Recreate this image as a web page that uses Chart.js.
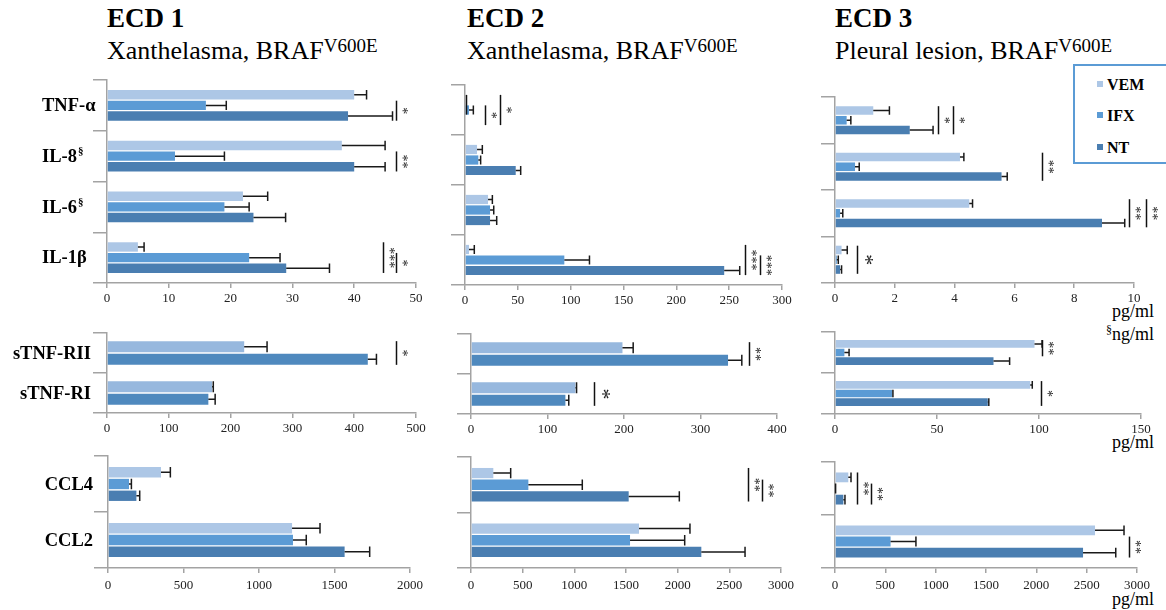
<!DOCTYPE html>
<html>
<head>
<meta charset="utf-8">
<script src="https://cdn.jsdelivr.net/npm/chart.js@4.4.1/dist/chart.umd.min.js"></script>
<style>
  body { margin: 0; background: #fff; width: 1166px; height: 610px; position: relative; overflow: hidden;
         font-family: 'Liberation Serif', 'Times New Roman', serif; color: #000; }
  canvas { position: absolute; }
  .ecd { position: absolute; top: 5px; font-weight: bold; font-size: 27px; line-height: 27px; }
  .sub { position: absolute; top: 38px; font-size: 26px; line-height: 26px; white-space: nowrap; }
  .sub sup { font-size: 19px; vertical-align: baseline; position: relative; top: -7px; }
  .unit { position: absolute; right: 12px; font-size: 18px; line-height: 18px; }
  .unit sup { font-size: 12px; vertical-align: baseline; position: relative; top: -6px; }
  #legend { position: absolute; left: 1073px; top: 64px; width: 100px; height: 96px;
            border: 2px solid #5b9bd5; background: #fff; z-index: 2; }
  #legend div { position: absolute; left: 22px; font-weight: bold; font-size: 16px; line-height: 16px; }
  #legend span { display: inline-block; width: 6px; height: 6px; margin-right: 4px; vertical-align: 3px; }
</style>
</head>
<body>
<div class="ecd" style="left:107px">ECD 1</div>
<div class="sub" style="left:107px">Xanthelasma, BRAF<sup>V600E</sup></div>
<div class="ecd" style="left:467px">ECD 2</div>
<div class="sub" style="left:467px">Xanthelasma, BRAF<sup>V600E</sup></div>
<div class="ecd" style="left:835px">ECD 3</div>
<div class="sub" style="left:835px">Pleural lesion, BRAF<sup>V600E</sup></div>

<div id="legend">
  <div style="top:11px"><span style="background:#adc7e6"></span>VEM</div>
  <div style="top:42px"><span style="background:#5b9bd5"></span>IFX</div>
  <div style="top:74px"><span style="background:#4a7eb1"></span>NT</div>
</div>

<div class="unit" style="top:302px">pg/ml</div>
<div class="unit" style="top:325px"><sup>§</sup>ng/ml</div>
<div class="unit" style="top:433px">pg/ml</div>
<div class="unit" style="top:590px">pg/ml</div>

<script>
// categories
const topLabels = ['TNF-α', 'IL-8§', 'IL-6§', 'IL-1β'];
const midLabels = ['sTNF-RII', 'sTNF-RI'];
const lowLabels = ['CCL4', 'CCL2'];

// ECD 1 - cytokines
const e1TopVEM = [40, 38, 22, 5];
const e1TopVEMErr = [2, 7, 4, 1];
const e1TopIFX = [16, 11, 19, 23];
const e1TopIFXErr = [3.3, 8, 4, 5];
const e1TopNT = [39, 40, 23.7, 29];
const e1TopNTErr = [7.2, 5, 5.2, 7];
// ECD 1 - soluble receptors (no IFX)
const e1MidVEM = [222, 170];
const e1MidVEMErr = [37, 2];
const e1MidNT = [422, 164];
const e1MidNTErr = [14, 11];
// ECD 1 - chemokines
const e1LowVEM = [351, 1219];
const e1LowVEMErr = [62, 185];
const e1LowIFX = [139, 1225];
const e1LowIFXErr = [16, 88];
const e1LowNT = [188, 1567];
const e1LowNTErr = [22, 166];

// ECD 2
const e2TopVEM = [0, 11.4, 21.8, 3.8];
const e2TopVEMErr = [0, 5, 4.1, 5];
const e2TopIFX = [3.8, 12.6, 23.7, 94];
const e2TopIFXErr = [4.1, 2.2, 3.5, 23.8];
const e2TopNT = [0, 48, 23.7, 245.3];
const e2TopNTErr = [0, 4.7, 6.3, 14.7];
const e2MidVEM = [198, 136.5];
const e2MidVEMErr = [14, 1.5];
const e2MidNT = [336, 123.4];
const e2MidNTErr = [18, 4.4];
const e2LowVEM = [216, 1626];
const e2LowVEMErr = [168, 493];
const e2LowIFX = [555, 1539];
const e2LowIFXErr = [522, 529];
const e2LowNT = [1526, 2229];
const e2LowNTErr = [490, 423];

// ECD 3
const e3TopVEM = [1.28, 4.18, 4.49, 0.22];
const e3TopVEMErr = [0.54, 0.13, 0.11, 0.19];
const e3TopIFX = [0.39, 0.67, 0.17, 0.06];
const e3TopIFXErr = [0.14, 0.14, 0.09, 0.05];
const e3TopNT = [2.5, 5.57, 8.93, 0.17];
const e3TopNTErr = [0.78, 0.19, 0.76, 0.05];
const e3MidVEM = [97.8, 95.7];
const e3MidVEMErr = [3.7, 1];
const e3MidIFX = [4.6, 28.1];
const e3MidIFXErr = [2.3, 0.3];
const e3MidNT = [77.7, 74.9];
const e3MidNTErr = [7.9, 0.5];
const e3LowVEM = [132, 2583];
const e3LowVEMErr = [27, 288];
const e3LowIFX = [0, 552];
const e3LowIFXErr = [6, 252];
const e3LowNT = [83, 2464];
const e3LowNTErr = [16, 325];

// significance bars: [category, first series, last series, x value, stars, large]
const e1TopSig = [[0, 1, 2, 46.8, '*'], [1, 1, 2, 46.8, '**'], [3, 0, 2, 44.6, '***'], [3, 1, 2, 46.8, '*']];
const e1MidSig = [[0, 0, 1, 468, '*']];
const e2TopSig = [[0, 0, 1, 0.6, ''], [0, 1, 2, 19, '*'], [0, 0, 2, 32.8, '*'], [3, 0, 2, 264.6, '***'], [3, 1, 2, 278.8, '***']];
const e2MidSig = [[0, 0, 1, 363, '**'], [1, 0, 1, 161, '*', true]];
const e2LowSig = [[0, 0, 2, 2677, '**'], [0, 1, 2, 2813, '**']];
const e3TopSig = [[0, 0, 2, 3.46, '*'], [0, 0, 2, 3.95, '*'], [1, 0, 2, 6.93, '**'], [2, 0, 2, 9.83, '**'], [2, 0, 2, 10.41, '**'], [3, 0, 2, 0.72, '*', true]];
const e3MidSig = [[0, 0, 1, 101.6, '**'], [1, 0, 2, 101, '*']];
const e3LowSig = [[0, 0, 2, 215, '**'], [0, 1, 2, 357, '**'], [1, 1, 2, 2921, '**']];

const C = { vem: '#adc7e6', ifx: '#5b9bd5', nt: '#4a7eb1', vem2: '#97b8de', nt2: '#4f89be' };
const axisColor = '#a3a3a3';
const serif = "'Liberation Serif', 'Times New Roman', serif";
Chart.defaults.font.family = serif;

function panel(box, area, labels, sets, max, step, sig, names, tickPad) {
  const cv = document.createElement('canvas');
  cv.width = box.w; cv.height = box.h;
  cv.style.left = box.x + 'px'; cv.style.top = box.y + 'px';
  document.body.appendChild(cv);

  const errorBars = {
    id: 'errorBars',
    afterDatasetsDraw(chart) {
      const ctx = chart.ctx, xs = chart.scales.x;
      ctx.save();
      ctx.strokeStyle = '#1a1a1a'; ctx.lineWidth = 1.5;
      chart.data.datasets.forEach((ds, i) => {
        chart.getDatasetMeta(i).data.forEach((bar, j) => {
          const v = ds.data[j], e = ds.errors[j];
          if (v == null || !e) return;
          const x0 = xs.getPixelForValue(v), x1 = xs.getPixelForValue(v + e);
          const h = bar.height;
          ctx.beginPath();
          ctx.moveTo(x0, bar.y); ctx.lineTo(x1, bar.y);
          ctx.moveTo(x1, bar.y - h / 2); ctx.lineTo(x1, bar.y + h / 2);
          ctx.stroke();
        });
      });
      ctx.restore();
    }
  };

  const sigBars = {
    id: 'sigBars',
    afterDatasetsDraw(chart) {
      const ctx = chart.ctx, xs = chart.scales.x;
      ctx.save();
      sig.forEach(([cat, a, b, xv, txt, big]) => {
        const m0 = chart.getDatasetMeta(a).data[cat], m1 = chart.getDatasetMeta(b).data[cat];
        const y0 = m0.y - m0.height / 2, y1 = m1.y + m1.height / 2;
        const x = Math.round(xs.getPixelForValue(xv)) + 0.5;
        ctx.strokeStyle = '#111'; ctx.lineWidth = 1.5;
        ctx.beginPath(); ctx.moveTo(x, y0); ctx.lineTo(x, y1); ctx.stroke();
        if (!txt) return;
        ctx.save();
        ctx.translate(x + (big ? 7 : 5), (y0 + y1) / 2);
        ctx.rotate(Math.PI / 2);
        ctx.font = (big ? '22px ' : '14px ') + serif;
        ctx.fillStyle = '#222';
        ctx.textAlign = 'center'; ctx.textBaseline = 'middle';
        ctx.fillText(txt, 0, 0);
        ctx.restore();
      });
      ctx.restore();
    }
  };

  const catNames = {
    id: 'catNames',
    afterDraw(chart) {
      if (!names) return;
      const ctx = chart.ctx, ys = chart.scales.y;
      ctx.save();
      ctx.fillStyle = '#000'; ctx.textBaseline = 'middle';
      chart.data.labels.forEach((lab, j) => {
        const y = ys.getPixelForValue(j);
        let main = lab, sup = '';
        if (lab.endsWith('§')) { main = lab.slice(0, -1); sup = '§'; }
        ctx.font = 'bold 18.5px ' + serif;
        const w = ctx.measureText(main).width;
        const x = names.align === 'left' ? names.x - box.x : names.x - box.x - w;
        ctx.fillText(main, x, y + 1);
        if (sup) {
          ctx.font = 'bold 11px ' + serif;
          ctx.fillText(sup, x + w + 1, y - 5);
        }
      });
      ctx.restore();
    }
  };

  return new Chart(cv, {
    type: 'bar',
    data: {
      labels: labels,
      datasets: sets.map(s => ({
        label: s[0], data: s[1], errors: s[2], backgroundColor: s[3],
        borderWidth: 0, categoryPercentage: 0.63, barPercentage: 0.88
      }))
    },
    options: {
      indexAxis: 'y',
      responsive: false,
      animation: false,
      devicePixelRatio: 1,
      layout: { padding: { left: 0, top: area.t - box.y, right: box.x + box.w - area.r, bottom: 0 } },
      plugins: { legend: { display: false }, tooltip: { enabled: false } },
      scales: {
        x: {
          min: 0, max: max,
          ticks: {
            stepSize: step, color: '#222', font: { family: serif, size: 13 }, padding: tickPad,
            maxRotation: 0, autoSkip: false, callback: v => String(v)
          },
          grid: { drawOnChartArea: false, tickLength: 5, color: axisColor, lineWidth: 1.5 },
          border: { color: axisColor, width: 1.5 },
          afterFit: s => { s.height = box.y + box.h - area.b; }
        },
        y: {
          ticks: { display: false },
          grid: { drawOnChartArea: false, tickLength: 14, color: axisColor, lineWidth: 1.5, offset: true },
          border: { color: axisColor, width: 1.5 },
          afterFit: s => { s.width = area.l - box.x; }
        }
      }
    },
    plugins: [errorBars, sigBars, catNames]
  });
}

// ECD 1 column
panel({ x: 0, y: 70, w: 430, h: 236 }, { l: 107, r: 416, t: 80, b: 283 }, topLabels,
  [['VEM', e1TopVEM, e1TopVEMErr, C.vem], ['IFX', e1TopIFX, e1TopIFXErr, C.ifx], ['NT', e1TopNT, e1TopNTErr, C.nt]],
  50, 10, e1TopSig, { x: 42, align: 'left' }, 3);
panel({ x: 0, y: 320, w: 430, h: 120 }, { l: 107, r: 416, t: 333, b: 413 }, midLabels,
  [['VEM', e1MidVEM, e1MidVEMErr, C.vem2], ['NT', e1MidNT, e1MidNTErr, C.nt2]],
  500, 100, e1MidSig, { x: 91, align: 'right' }, 3);
panel({ x: 0, y: 445, w: 430, h: 160 }, { l: 108, r: 410, t: 456, b: 568 }, lowLabels,
  [['VEM', e1LowVEM, e1LowVEMErr, C.vem], ['IFX', e1LowIFX, e1LowIFXErr, C.ifx], ['NT', e1LowNT, e1LowNTErr, C.nt]],
  2000, 500, [], { x: 93, align: 'right' }, 5);

// ECD 2 column
panel({ x: 440, y: 70, w: 360, h: 236 }, { l: 465, r: 782, t: 85, b: 285 }, topLabels,
  [['VEM', e2TopVEM, e2TopVEMErr, C.vem], ['IFX', e2TopIFX, e2TopIFXErr, C.ifx], ['NT', e2TopNT, e2TopNTErr, C.nt]],
  300, 50, e2TopSig, null, 3);
panel({ x: 440, y: 320, w: 360, h: 120 }, { l: 471, r: 777, t: 334, b: 414 }, midLabels,
  [['VEM', e2MidVEM, e2MidVEMErr, C.vem2], ['NT', e2MidNT, e2MidNTErr, C.nt2]],
  400, 100, e2MidSig, null, 3);
panel({ x: 440, y: 445, w: 360, h: 160 }, { l: 471, r: 781, t: 457, b: 568 }, lowLabels,
  [['VEM', e2LowVEM, e2LowVEMErr, C.vem], ['IFX', e2LowIFX, e2LowIFXErr, C.ifx], ['NT', e2LowNT, e2LowNTErr, C.nt]],
  3000, 500, e2LowSig, null, 5);

// ECD 3 column
panel({ x: 810, y: 70, w: 356, h: 236 }, { l: 835, r: 1134, t: 97, b: 283 }, topLabels,
  [['VEM', e3TopVEM, e3TopVEMErr, C.vem], ['IFX', e3TopIFX, e3TopIFXErr, C.ifx], ['NT', e3TopNT, e3TopNTErr, C.nt]],
  10, 2, e3TopSig, null, 3);
panel({ x: 810, y: 320, w: 356, h: 120 }, { l: 835, r: 1141, t: 332, b: 414 }, midLabels,
  [['VEM', e3MidVEM, e3MidVEMErr, C.vem], ['IFX', e3MidIFX, e3MidIFXErr, C.ifx], ['NT', e3MidNT, e3MidNTErr, C.nt]],
  150, 50, e3MidSig, null, 3);
panel({ x: 810, y: 445, w: 356, h: 160 }, { l: 835, r: 1137, t: 462, b: 568 }, lowLabels,
  [['VEM', e3LowVEM, e3LowVEMErr, C.vem], ['IFX', e3LowIFX, e3LowIFXErr, C.ifx], ['NT', e3LowNT, e3LowNTErr, C.nt]],
  3000, 500, e3LowSig, null, 5);
</script>
</body>
</html>
